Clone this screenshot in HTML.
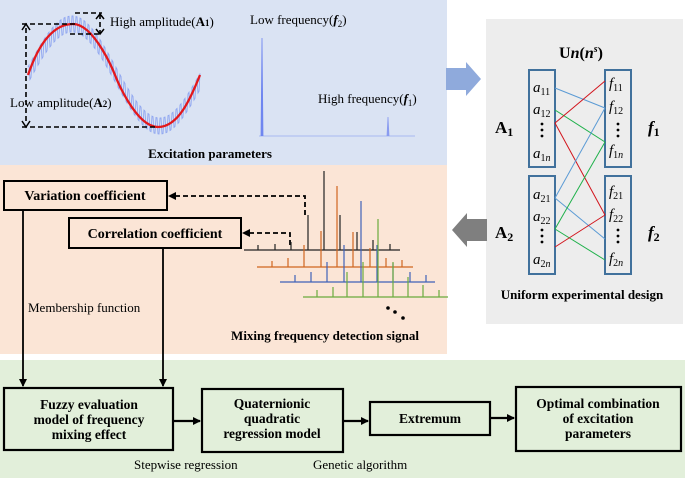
<!DOCTYPE html>
<html><head><meta charset="utf-8"><style>
html,body{margin:0;padding:0;background:#fff;}
svg{display:block;font-family:"Liberation Serif",serif;}
.b{font-weight:bold;}
</style></head><body>
<svg width="685" height="483" viewBox="0 0 685 483" xmlns="http://www.w3.org/2000/svg">
<defs>
<marker id="ah" markerWidth="8" markerHeight="8" refX="7" refY="4" orient="auto" markerUnits="userSpaceOnUse"><path d="M0,0 L8,4 L0,8 z" fill="#000"/></marker>
</defs>
<rect x="0" y="0" width="447" height="165" fill="#dae3f3"/>
<rect x="0" y="165" width="447" height="189" fill="#fbe5d6"/>
<rect x="486" y="19" width="197" height="305" fill="#ededed"/>
<rect x="0" y="360" width="685" height="118" fill="#e2efda"/>
<path d="M446,68 L466,68 L466,62 L481,79 L466,96 L466,90 L446,90 z" fill="#8faadc"/>
<path d="M487,219 L467,219 L467,213 L452,230 L467,247 L467,241 L487,241 z" fill="#7f7f7f"/>
<path id="zig" d="" fill="none" stroke="#8fa6f0" stroke-width="0.9"/>
<path d="M28,75 C40,40 55,24 73,24 C95,24 115,75 115,75 C115,75 135,127 158,127 C178,127 190,100 200,75" fill="none" stroke="#e3181c" stroke-width="2.3"/>
<g stroke="#000" stroke-width="1.6" stroke-dasharray="5 3" fill="none">
<line x1="22" y1="24" x2="75" y2="24"/>
<line x1="75" y1="13" x2="102" y2="13"/>
<line x1="70" y1="34" x2="100" y2="34"/>
<line x1="100" y1="14" x2="100" y2="34"/>
<line x1="26" y1="28" x2="26" y2="124"/>
<line x1="22" y1="127" x2="158" y2="127"/>
</g>
<path d="M22,30 L26,24 L30,30 M22,121 L26,127 L30,121 M96,19 L100,14 L104,19 M96,29 L100,34 L104,29" stroke="#000" stroke-width="1.5" fill="none"/>
<text x="110" y="26" font-size="13">High amplitude(<tspan class="b">A</tspan><tspan class="b" font-size="9">1</tspan>)</text>
<text x="10" y="107" font-size="13">Low amplitude(<tspan class="b">A</tspan><tspan class="b" font-size="9">2</tspan>)</text>
<line x1="259" y1="136" x2="415" y2="136" stroke="#a8b8f0" stroke-width="1"/>
<path d="M261,136 L262,38 L263,136" stroke="#6f86f0" fill="#6f86f0" stroke-width="0.8"/>
<path d="M387,136 L388,117 L389,136" stroke="#8a9cf0" fill="#8a9cf0" stroke-width="0.8"/>
<text x="250" y="24" font-size="13">Low frequency(<tspan class="b" font-style="italic">f</tspan><tspan font-size="9" dy="3">2</tspan><tspan dy="-3">)</tspan></text>
<text x="318" y="103" font-size="13">High frequency(<tspan class="b" font-style="italic">f</tspan><tspan font-size="9" dy="3">1</tspan><tspan dy="-3">)</tspan></text>
<text x="210" y="158" font-size="13" class="b" text-anchor="middle">Excitation parameters</text>
<text x="581" y="58" font-size="16" class="b" text-anchor="middle">U<tspan font-style="italic">n</tspan>(<tspan font-style="italic">n</tspan><tspan font-size="10" dy="-6" font-style="italic">s</tspan><tspan dy="6">)</tspan></text>
<g fill="none" stroke="#41719c" stroke-width="2">
<rect x="529" y="70" width="26" height="97"/><rect x="529" y="176" width="26" height="98"/>
<rect x="605" y="70" width="26" height="97"/><rect x="605" y="176" width="26" height="98"/>
</g>
<g stroke-width="1">
<line x1="555" y1="88" x2="605" y2="108" stroke="#5b9bd5"/>
<line x1="555" y1="110" x2="605" y2="142" stroke="#1fb14b"/>
<line x1="555" y1="123" x2="605" y2="81" stroke="#d2141c"/>
<line x1="555" y1="123" x2="605" y2="215" stroke="#d2141c"/>
<line x1="555" y1="198" x2="605" y2="108" stroke="#5b9bd5"/>
<line x1="555" y1="198" x2="605" y2="239" stroke="#5b9bd5"/>
<line x1="555" y1="229" x2="605" y2="142" stroke="#1fb14b"/>
<line x1="555" y1="229" x2="605" y2="260" stroke="#1fb14b"/>
<line x1="555" y1="247" x2="605" y2="215" stroke="#d2141c"/>
</g>
<g font-size="15" font-style="italic">
<text x="533" y="92">a<tspan font-size="10" font-style="normal" dy="3">11</tspan></text>
<text x="533" y="114">a<tspan font-size="10" font-style="normal" dy="3">12</tspan></text>
<text x="533" y="158">a<tspan font-size="10" font-style="normal" dy="3">1</tspan><tspan font-size="10">n</tspan></text>
<text x="533" y="199">a<tspan font-size="10" font-style="normal" dy="3">21</tspan></text>
<text x="533" y="221">a<tspan font-size="10" font-style="normal" dy="3">22</tspan></text>
<text x="533" y="264">a<tspan font-size="10" font-style="normal" dy="3">2</tspan><tspan font-size="10">n</tspan></text>
<text x="609" y="88">f<tspan font-size="10" font-style="normal" dy="3">11</tspan></text>
<text x="609" y="111">f<tspan font-size="10" font-style="normal" dy="3">12</tspan></text>
<text x="609" y="155">f<tspan font-size="10" font-style="normal" dy="3">1</tspan><tspan font-size="10">n</tspan></text>
<text x="609" y="196">f<tspan font-size="10" font-style="normal" dy="3">21</tspan></text>
<text x="609" y="219">f<tspan font-size="10" font-style="normal" dy="3">22</tspan></text>
<text x="609" y="263">f<tspan font-size="10" font-style="normal" dy="3">2</tspan><tspan font-size="10">n</tspan></text>
</g>
<g fill="#000"><circle cx="542" cy="124" r="1.4"/><circle cx="542" cy="130" r="1.4"/><circle cx="542" cy="136" r="1.4"/>
<circle cx="542" cy="230" r="1.4"/><circle cx="542" cy="236" r="1.4"/><circle cx="542" cy="242" r="1.4"/>
<circle cx="618" cy="124" r="1.4"/><circle cx="618" cy="130" r="1.4"/><circle cx="618" cy="136" r="1.4"/>
<circle cx="618" cy="230" r="1.4"/><circle cx="618" cy="236" r="1.4"/><circle cx="618" cy="242" r="1.4"/></g>
<text x="495" y="133" font-size="17" class="b">A<tspan font-size="12" dy="3">1</tspan></text>
<text x="495" y="238" font-size="17" class="b">A<tspan font-size="12" dy="3">2</tspan></text>
<text x="648" y="133" font-size="17" class="b" font-style="italic">f<tspan font-size="12" dy="3" font-style="normal">1</tspan></text>
<text x="648" y="238" font-size="17" class="b" font-style="italic">f<tspan font-size="12" dy="3" font-style="normal">2</tspan></text>
<text x="582" y="299" font-size="13" class="b" text-anchor="middle">Uniform experimental design</text>
<rect x="4" y="181" width="163" height="29" fill="none" stroke="#000" stroke-width="2"/>
<text x="85" y="200" font-size="14" class="b" text-anchor="middle">Variation coefficient</text>
<rect x="69" y="218" width="172" height="30" fill="none" stroke="#000" stroke-width="2"/>
<text x="155" y="238" font-size="14" class="b" text-anchor="middle">Correlation coefficient</text>
<g stroke="#000" stroke-width="1.8" stroke-dasharray="5 3" fill="none">
<path d="M305,215 L305,196 L172,196"/>
<path d="M290,245 L290,233 L246,233"/>
</g>
<path d="M168,196 L176,192 L176,200 z M242,233 L250,229 L250,237 z" fill="#000"/>
<g fill="none" stroke-width="1.2">
<path stroke="#222" d="M244,250 L400,250 M258,250V245 M275,250V244 M291,250V242 M308,250V215 M324,250V171 M340,250V215 M357,250V232 M373,250V240 M390,250V244"/>
<path stroke="#d0661f" d="M257,267 L413,267 M272,267V261 M288,267V258 M304,267V245 M321,267V231 M337,267V186 M353,267V232 M370,267V248 M386,267V258 M402,267V260"/>
<path stroke="#3f62b8" d="M280,282 L435,282 M295,282V275 M311,282V272 M327,282V262 M344,282V245 M361,282V201 M377,282V245 M393,282V263 M410,282V272 M426,282V275"/>
<path stroke="#6aab3e" d="M303,297 L448,297 M317,297V290 M333,297V287 M347,297V272 M363,297V262 M378,297V219 M393,297V262 M408,297V277 M423,297V285 M439,297V290"/>
</g>
<circle cx="388" cy="308" r="1.8"/><circle cx="395" cy="312" r="1.8"/><circle cx="403" cy="318" r="1.8"/>
<text x="325" y="340" font-size="13" class="b" text-anchor="middle">Mixing frequency detection signal</text>
<text x="28" y="312" font-size="13">Membership function</text>
<line x1="23" y1="210" x2="23" y2="386" stroke="#000" stroke-width="1.8" marker-end="url(#ah)"/>
<line x1="163" y1="248" x2="163" y2="386" stroke="#000" stroke-width="1.8" marker-end="url(#ah)"/>
<g fill="none" stroke="#000" stroke-width="2.2">
<rect x="4" y="388" width="169" height="62"/>
<rect x="202" y="389" width="141" height="63"/>
<rect x="370" y="402" width="120" height="33"/>
<rect x="516" y="387" width="165" height="64"/>
</g>
<g stroke="#000" stroke-width="2.2">
<line x1="173" y1="421" x2="200" y2="421" marker-end="url(#ah)"/>
<line x1="343" y1="421" x2="368" y2="421" marker-end="url(#ah)"/>
<line x1="490" y1="418" x2="514" y2="418" marker-end="url(#ah)"/>
</g>
<g font-size="13.5" class="b" text-anchor="middle">
<text x="89" y="409">Fuzzy evaluation</text><text x="89" y="424">model of frequency</text><text x="89" y="439">mixing effect</text>
<text x="272" y="408">Quaternionic</text><text x="272" y="423">quadratic</text><text x="272" y="438">regression model</text>
<text x="430" y="423">Extremum</text>
<text x="598" y="408">Optimal combination</text><text x="598" y="423">of excitation</text><text x="598" y="438">parameters</text>
</g>
<text x="134" y="469" font-size="13">Stepwise regression</text>
<text x="313" y="469" font-size="13">Genetic algorithm</text>
</svg>
<script>
(function(){var d="";for(var i=0;i<=172;i++){var x=28+i;var y=75-51*Math.sin((x-28)/172*2*Math.PI*0.98);var o=(i%4<2)?-8:8;d+=(i?"L":"M")+x+","+(y+o).toFixed(1);}document.getElementById("zig").setAttribute("d",d);})();
</script>
</body></html>
